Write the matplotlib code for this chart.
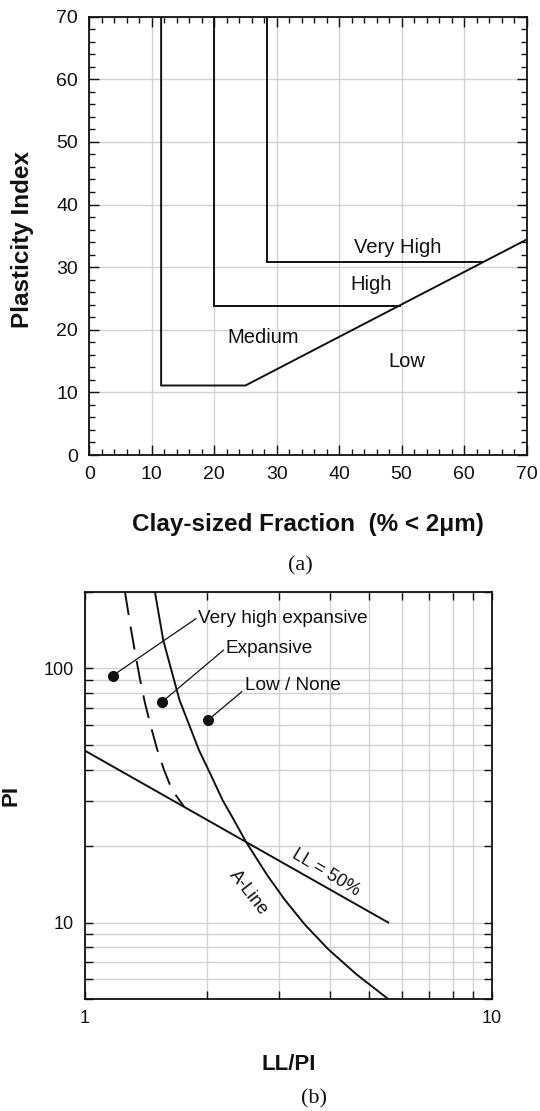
import matplotlib
matplotlib.use("Agg")
import matplotlib.pyplot as plt
from matplotlib.ticker import MultipleLocator, LogLocator, NullFormatter, FuncFormatter

plt.rcParams['font.family'] = ['Liberation Sans', 'DejaVu Sans']

# ---- (a) activity chart: plasticity index vs clay-sized fraction ----
low_med_x = [11.5, 11.5, 25.0, 70.0]
low_med_y = [70.0, 11.1, 11.1, 34.4]
med_high_x = [20.0, 20.0, 49.8]
med_high_y = [70.0, 23.8, 23.8]
high_vh_x = [28.4, 28.4, 62.8]
high_vh_y = [70.0, 30.75, 30.75]

zone_names = ["Very High", "High", "Medium", "Low"]
zone_x = [49.3, 45.1, 27.9, 50.9]
zone_y = [33.1, 27.2, 18.7, 15.0]

# ---- (b) expansiveness chart: PI vs LL/PI ----
ll50_x = [1.0, 5.56]
ll50_y = [47.5, 10.0]

aline_x = [1.487, 1.522, 1.558, 1.631, 1.708, 1.804, 1.906, 2.038, 2.178,
           2.328, 2.487, 2.802, 3.097, 3.469, 3.968, 4.648, 5.56]
aline_y = [200, 160.8, 129.4, 98.7, 75.2, 60.0, 47.8, 38.2, 30.4,
           25.2, 20.8, 15.4, 12.3, 9.82, 7.83, 6.25, 5.0]

vh_x = [1.255, 1.291, 1.328, 1.366, 1.405, 1.454, 1.504, 1.565, 1.637, 1.752]
vh_y = [200, 150.9, 116.1, 90.9, 73.2, 58.9, 48.3, 39.9, 33.3, 28.6]

pt_names = ["Very high expansive", "Expansive", "Low / None"]
pt_x = [1.17, 1.545, 2.011]
pt_y = [93.6, 73.7, 62.8]
lbl_x = [1.90, 2.22, 2.48]
lbl_y = [157, 119.8, 86.0]
tip_x = [1.874, 2.19, 2.43]
tip_y = [157, 118, 81.0]

W, H = 540, 1111
fig = plt.figure(figsize=(W / 100, H / 100), dpi=100)

def box(l, t, r, b):
    return [l / W, 1 - b / H, (r - l) / W, (b - t) / H]

ink = "#111111"
gridc = "#d2d2d2"

# ---------------- panel (a) ----------------
ax1 = fig.add_axes(box(89.3, 16.7, 526.5, 455))
ax1.set_xlim(0, 70)
ax1.set_ylim(0, 70)
ax1.xaxis.set_major_locator(MultipleLocator(10))
ax1.yaxis.set_major_locator(MultipleLocator(10))
ax1.xaxis.set_minor_locator(MultipleLocator(2))
ax1.yaxis.set_minor_locator(MultipleLocator(2))
ax1.grid(True, which="major", color=gridc, lw=1.0)
ax1.set_axisbelow(True)
ax1.tick_params(which="both", direction="in", top=True, right=True,
                color=ink, labelsize=14, labelcolor=ink)
ax1.tick_params(which="major", length=7, width=1.0, pad=8)
ax1.tick_params(which="minor", length=4.5, width=1.0)
for s in ax1.spines.values():
    s.set_linewidth(1.3)
    s.set_color(ink)

for xs, ys in [(low_med_x, low_med_y), (med_high_x, med_high_y), (high_vh_x, high_vh_y)]:
    ax1.plot(xs, ys, color=ink, lw=1.4, solid_joinstyle="miter")
for name, x, y in zip(zone_names, zone_x, zone_y):
    ax1.text(x, y, name, ha="center", va="center", fontsize=14.5, color=ink)

fig.text(23 / W, 1 - 240 / H, "Plasticity Index", rotation=90, ha="center",
         va="center", fontsize=17.5, fontweight="bold", color=ink)
fig.text(308 / W, 1 - 525 / H, "Clay-sized Fraction  (% < 2\u03bcm)", ha="center",
         va="center", fontsize=17.5, fontweight="bold", color=ink)
fig.text(300 / W, 1 - 566 / H, "(a)", ha="center", va="center", fontsize=16,
         family=["Liberation Serif", "DejaVu Serif"], color=ink)

# ---------------- panel (b) ----------------
ax2 = fig.add_axes(box(84.8, 592, 492, 999))
ax2.set_xscale("log")
ax2.set_yscale("log")
ax2.set_xlim(1, 10)
ax2.set_ylim(5, 200)
fmt = FuncFormatter(lambda v, p: "%g" % v)
for axis in (ax2.xaxis, ax2.yaxis):
    axis.set_major_locator(LogLocator(base=10))
    axis.set_minor_locator(LogLocator(base=10, subs=range(2, 10)))
    axis.set_major_formatter(fmt)
    axis.set_minor_formatter(NullFormatter())
ax2.grid(True, which="both", color=gridc, lw=1.0)
ax2.set_axisbelow(True)
ax2.tick_params(which="both", direction="in", top=True, right=True,
                color=ink, labelsize=13, labelcolor=ink, length=6, width=1.0)
ax2.tick_params(which="major", pad=8)
for s in ax2.spines.values():
    s.set_linewidth(1.3)
    s.set_color(ink)

ax2.plot(ll50_x, ll50_y, color=ink, lw=1.4)
ax2.plot(aline_x, aline_y, color=ink, lw=1.4, solid_joinstyle="round")
ax2.plot(vh_x, vh_y, color=ink, lw=1.4, dashes=(12, 6))
ax2.plot(pt_x, pt_y, "o", color=ink, ms=7)
for name, px, py, lx, ly, tx, ty in zip(pt_names, pt_x, pt_y, lbl_x, lbl_y, tip_x, tip_y):
    ax2.plot([px, tx], [py, ty], color=ink, lw=0.9)
    ax2.text(lx, ly, name, ha="left", va="center", fontsize=13.7, color=ink)

ax2.text(3.9, 15.7, "LL = 50%", rotation=-31, ha="center", va="center",
         fontsize=13, color=ink, rotation_mode="anchor")
ax2.text(2.53, 13.1, "A-Line", rotation=-52, ha="center", va="center",
         fontsize=13, color=ink, rotation_mode="anchor")

fig.text(11 / W, 1 - 796 / H, "PI", rotation=90, ha="center", va="center",
         fontsize=16, fontweight="bold", color=ink)
fig.text(289 / W, 1 - 1064 / H, "LL/PI", ha="center", va="center",
         fontsize=16, fontweight="bold", color=ink)
fig.text(314 / W, 1 - 1099 / H, "(b)", ha="center", va="center", fontsize=16,
         family=["Liberation Serif", "DejaVu Serif"], color=ink)

fig.savefig("out.png", dpi=100, facecolor="white")
